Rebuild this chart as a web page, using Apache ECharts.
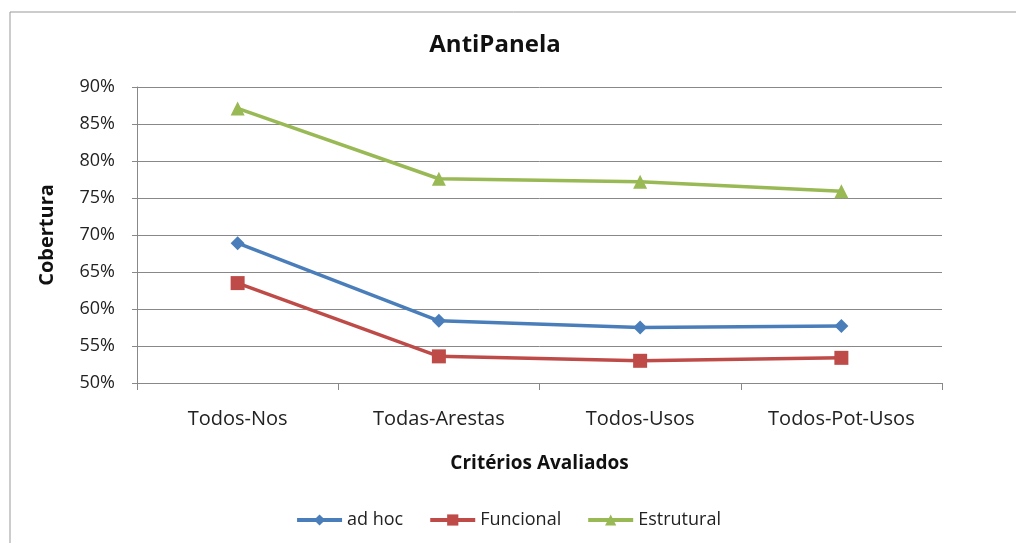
<!DOCTYPE html>
<html><head><meta charset="utf-8">
<script src="https://cdn.jsdelivr.net/npm/echarts@6/dist/echarts.min.js"></script>
<style>html,body{margin:0;padding:0;background:#fff}#c{width:1016px;height:543px}</style>
</head><body><div id="c"></div>
<script>
const categories = ['Todos-Nos','Todas-Arestas','Todos-Usos','Todos-Pot-Usos'];
const adHoc = [68.9, 58.4, 57.5, 57.7];
const funcional = [63.5, 53.6, 53.0, 53.4];
const estrutural = [87.1, 77.6, 77.2, 75.9];
const seriesNames = ['ad hoc','Funcional','Estrutural'];
const font = '"Open Sans", sans-serif';
const chart = echarts.init(document.getElementById('c'));
function mk(name, data, color, symbol, size){
  return {name, type:'line', data, symbol, symbolSize:size, color,
    lineStyle:{width:3.5,color}, itemStyle:{color}, animation:false};
}
chart.setOption({
  backgroundColor:'#fff',
  graphic:[{type:'rect',shape:{x:10,y:12,width:1020,height:560},style:{fill:'none',stroke:'#999',lineWidth:1},silent:true}],
  title:{text:'AntiPanela',left:490,top:28,textAlign:'center',textStyle:{fontFamily:font,fontSize:24,fontWeight:'bold',color:'#111'}},
  grid:{left:137,right:74,top:87,bottom:160},
  legend:{data:seriesNames,bottom:9,left:'center',itemWidth:45,itemHeight:14,itemGap:25,
    lineStyle:{width:4},
    textStyle:{fontFamily:font,fontSize:18,color:'#222'}},
  xAxis:{type:'category',data:categories,boundaryGap:true,
    name:'Critérios Avaliados',nameLocation:'middle',nameGap:71,
    nameTextStyle:{fontFamily:font,fontSize:19,fontWeight:'bold',color:'#111'},
    axisLine:{lineStyle:{color:'#888',width:1}},
    axisTick:{show:true,length:7,lineStyle:{color:'#888'}},
    axisLabel:{fontFamily:font,fontSize:20,color:'#222',margin:26}},
  yAxis:{type:'value',min:50,max:90,interval:5,
    name:'Cobertura',nameLocation:'middle',nameGap:80,
    nameTextStyle:{fontFamily:font,fontSize:20,fontWeight:'bold',color:'#111'},
    axisLine:{show:true,lineStyle:{color:'#888'}},
    axisTick:{show:true,length:5,lineStyle:{color:'#888'}},
    splitLine:{lineStyle:{color:'#888',width:1}},
    axisLabel:{fontFamily:font,fontSize:18,color:'#222',margin:22,formatter:v=>v+'%'}},
  series:[
    mk('ad hoc',adHoc,'#4A7EBB','diamond',14),
    mk('Funcional',funcional,'#BE4B48','rect',14),
    mk('Estrutural',estrutural,'#98B954','triangle',14)
  ]
});
</script></body></html>
